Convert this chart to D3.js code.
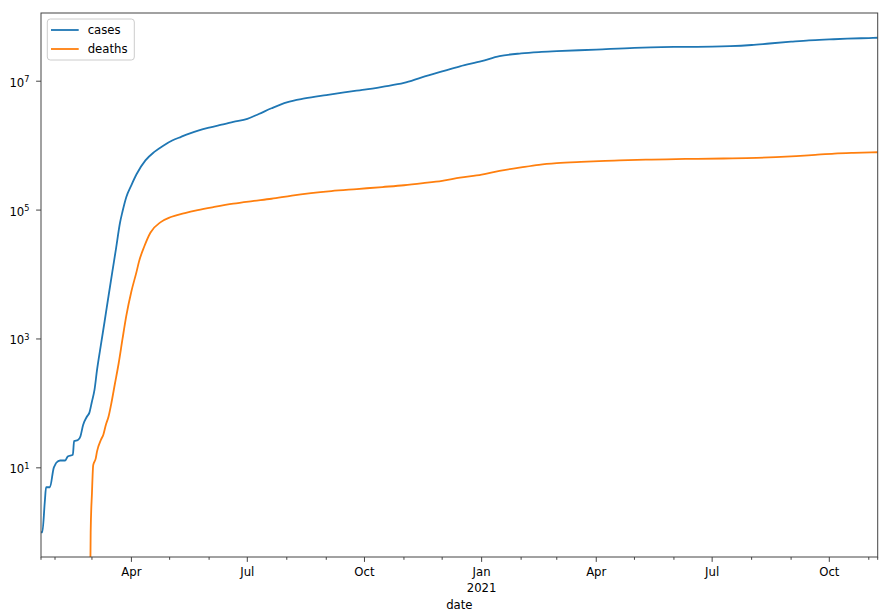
<!DOCTYPE html>
<html>
<head>
<meta charset="utf-8">
<title>cases and deaths</title>
<script src="https://cdnjs.cloudflare.com/ajax/libs/d3/7.8.5/d3.min.js"></script>
<style>
  body { margin: 0; background: #fff; }
  svg { font-family: "DejaVu Sans", sans-serif; }
  .line { fill: none; stroke-width: 1.8px; stroke-linejoin: round; stroke-linecap: round; }
  .tick-label { font-size: 11.7px; fill: #000; }
</style>
</head>
<body>
<svg id="chart" width="896" height="614"></svg>
<script>

// cumulative counts
var caseDates = ["2020-01-21","2020-01-22","2020-01-24","2020-01-25","2020-01-28","2020-01-31","2020-02-01","2020-02-02",
  "2020-02-05","2020-02-09","2020-02-11","2020-02-15","2020-02-16","2020-02-19","2020-02-21","2020-02-23","2020-02-26",
  "2020-02-28","2020-03-01","2020-03-03","2020-03-05","2020-03-08","2020-03-11","2020-03-14","2020-03-17","2020-03-20",
  "2020-03-23","2020-03-25","2020-03-28","2020-04-01","2020-04-05","2020-04-12","2020-04-19","2020-04-26","2020-05-03",
  "2020-05-10","2020-05-17","2020-05-24","2020-06-01","2020-06-10","2020-06-20","2020-07-01","2020-07-10","2020-07-20",
  "2020-08-01","2020-08-15","2020-09-01","2020-09-15","2020-10-01","2020-10-15","2020-11-01","2020-11-15","2020-12-01",
  "2020-12-15","2021-01-01","2021-01-15","2021-02-01","2021-02-15","2021-03-01","2021-04-01","2021-05-01","2021-06-01",
  "2021-07-01","2021-07-15","2021-08-01","2021-08-15","2021-09-01","2021-09-15","2021-10-01","2021-10-15","2021-11-01",
  "2021-11-08"];
var cases = [1,1,3,5,5,10,11,12,
  13,13,15,16,26,27,31,46,62,
  72,107,162,330,800,1900,4600,11000,26000,
  63000,95000,160000,245000,360000,590000,800000,1000000,1200000,
  1370000,1550000,1720000,1900000,2100000,2340000,2600000,3100000,3800000,
  4700000,5400000,6100000,6700000,7400000,8200000,9400000,11500000,14200000,
  17000000,20500000,24500000,27000000,28300000,29200000,31000000,33000000,34000000,
  34400000,35000000,36500000,38500000,41000000,43000000,44500000,45700000,46800000,
  47300000];

var deathDates = ["2020-02-28","2020-02-29","2020-03-01","2020-03-02","2020-03-04","2020-03-05","2020-03-08","2020-03-10",
  "2020-03-12","2020-03-14","2020-03-16","2020-03-19","2020-03-22","2020-03-25","2020-03-28","2020-04-01","2020-04-05",
  "2020-04-07","2020-04-11","2020-04-16","2020-04-24","2020-05-02","2020-05-13","2020-05-23","2020-06-05","2020-06-20",
  "2020-07-05","2020-07-20","2020-08-05","2020-08-20","2020-09-05","2020-09-25","2020-10-15","2020-11-01","2020-11-16",
  "2020-12-01","2020-12-15","2021-01-01","2021-01-15","2021-02-01","2021-02-15","2021-03-01","2021-03-20","2021-04-15",
  "2021-05-10","2021-06-10","2021-07-10","2021-08-05","2021-08-20","2021-09-05","2021-09-20","2021-10-05","2021-10-20",
  "2021-11-08"];
var deaths = [0,1,4,11,14,18,27,33,
  47,62,95,200,420,1000,2300,5500,11000,
  16000,27000,45000,65000,78000,90000,100000,112000,126000,
  138000,150000,168000,183000,197000,212000,228000,243000,262000,
  285000,318000,355000,405000,460000,505000,535000,560000,585000,
  608000,622000,632000,645000,662000,688000,720000,752000,772000,
  790000];

var seriesNames = ["cases", "deaths"];
var palette = ["#1f77b4", "#ff7f0e"];

var parseDate = d3.timeParse("%Y-%m-%d");
var series = [
  {name: seriesNames[0], values: caseDates.map(function(d, i) { return {date: parseDate(d), v: cases[i]}; })},
  {name: seriesNames[1], values: deathDates.map(function(d, i) { return {date: parseDate(d), v: deaths[i]}; })}
];

var svg = d3.select("svg"),
    margin = {top: 13, right: 18.3, bottom: 57, left: 41},
    width = +svg.attr("width") - margin.left - margin.right,
    height = +svg.attr("height") - margin.top - margin.bottom,
    g = svg.append("g").attr("transform", "translate(" + margin.left + "," + margin.top + ")");

var allDates = series[0].values.concat(series[1].values).map(function(d) { return d.date; });
var x = d3.scaleTime().domain(d3.extent(allDates)).range([0, width]);

// matplotlib style autoscale: 5% padding in log space
var positives = cases.concat(deaths).filter(function(v) { return v > 0; });
var lo = Math.log10(d3.min(positives)), hi = Math.log10(d3.max(positives)),
    pad = 0.05 * (hi - lo);
var y = d3.scaleLog().domain([Math.pow(10, lo - pad), Math.pow(10, hi + pad)]).range([height, 0]);

svg.append("defs").append("clipPath").attr("id", "clip")
  .append("rect").attr("width", width).attr("height", height);

var line = d3.line()
  .curve(d3.curveMonotoneX)
  .x(function(d) { return x(d.date); })
  .y(function(d) { return y(d.v > 0 ? d.v : y.domain()[0] / 100); });

g.append("g").attr("clip-path", "url(#clip)")
  .selectAll(".line")
  .data(series)
  .enter().append("path")
  .attr("class", "line")
  .attr("d", function(d) { return line(d.values); })
  .style("stroke", function(d, i) { return palette[i]; });

// frame
g.append("rect")
  .attr("width", width).attr("height", height)
  .attr("fill", "none").attr("stroke", "#444").attr("stroke-width", 1);

// x axis: monthly minor ticks, quarterly labels
var x0 = x.domain()[0], x1 = x.domain()[1];
var months = d3.timeMonth.range(d3.timeMonth.ceil(x0), d3.timeDay.offset(x1, 1));
var minorTicks = [x0, x1].concat(months.filter(function(m) { return m.getMonth() % 3 != 0; }));
var majorTicks = months.filter(function(m) { return m.getMonth() % 3 == 0; });

var xAxis = g.append("g").attr("transform", "translate(0," + height + ")");
xAxis.selectAll(".minor").data(minorTicks).enter().append("line")
  .attr("x1", function(d) { return x(d); }).attr("x2", function(d) { return x(d); })
  .attr("y1", 0).attr("y2", 2.8)
  .attr("stroke", "#444");
xAxis.selectAll(".major").data(majorTicks).enter().append("line")
  .attr("x1", function(d) { return x(d); }).attr("x2", function(d) { return x(d); })
  .attr("y1", 0).attr("y2", 4.9)
  .attr("stroke", "#444");
var monthFmt = d3.timeFormat("%b"), yearFmt = d3.timeFormat("%Y");
xAxis.selectAll(".xlab").data(majorTicks).enter().append("text")
  .attr("class", "tick-label")
  .attr("x", function(d) { return x(d); })
  .attr("y", 18.5)
  .attr("text-anchor", "middle")
  .text(function(d) { return monthFmt(d); });
xAxis.selectAll(".ylab").data(majorTicks.filter(function(d) { return d.getMonth() == 0; }))
  .enter().append("text")
  .attr("class", "tick-label")
  .attr("x", function(d) { return x(d); })
  .attr("y", 34.5)
  .attr("text-anchor", "middle")
  .text(function(d) { return yearFmt(d); });
xAxis.append("text")
  .attr("class", "tick-label")
  .attr("x", width / 2).attr("y", 52)
  .attr("text-anchor", "middle")
  .text("date");

// y axis: odd decades
var yTicks = d3.range(Math.ceil(lo - pad), Math.floor(hi + pad) + 1)
  .filter(function(e) { return Math.abs(e % 2) == 1; });
var yAxis = g.append("g");
yAxis.selectAll("line").data(yTicks).enter().append("line")
  .attr("x1", -4.9).attr("x2", 0)
  .attr("y1", function(e) { return y(Math.pow(10, e)); })
  .attr("y2", function(e) { return y(Math.pow(10, e)); })
  .attr("stroke", "#444");
var yl = yAxis.selectAll("text").data(yTicks).enter().append("text")
  .attr("class", "tick-label")
  .attr("x", -11.5)
  .attr("y", function(e) { return y(Math.pow(10, e)) + 5.5; })
  .attr("text-anchor", "end");
yl.append("tspan").text("10");
yl.append("tspan").attr("dy", -4.5).style("font-size", "8.2px").text(function(e) { return e; });

// legend
var legend = g.append("g").attr("transform", "translate(6.3,6)");
legend.append("rect")
  .attr("width", 87).attr("height", 41).attr("rx", 3)
  .attr("fill", "#fff").attr("fill-opacity", 0.8)
  .attr("stroke", "#ccc").attr("stroke-width", 1);
var item = legend.selectAll(".item").data(series).enter().append("g")
  .attr("transform", function(d, i) { return "translate(0," + (11 + i * 19) + ")"; });
item.append("line")
  .attr("x1", 3.7).attr("x2", 31.4)
  .attr("stroke", function(d, i) { return palette[i]; })
  .attr("stroke-width", 1.8);
item.append("text")
  .attr("class", "tick-label")
  .attr("x", 40.4).attr("y", 4.2)
  .text(function(d) { return d.name; });

</script>
</body>
</html>
